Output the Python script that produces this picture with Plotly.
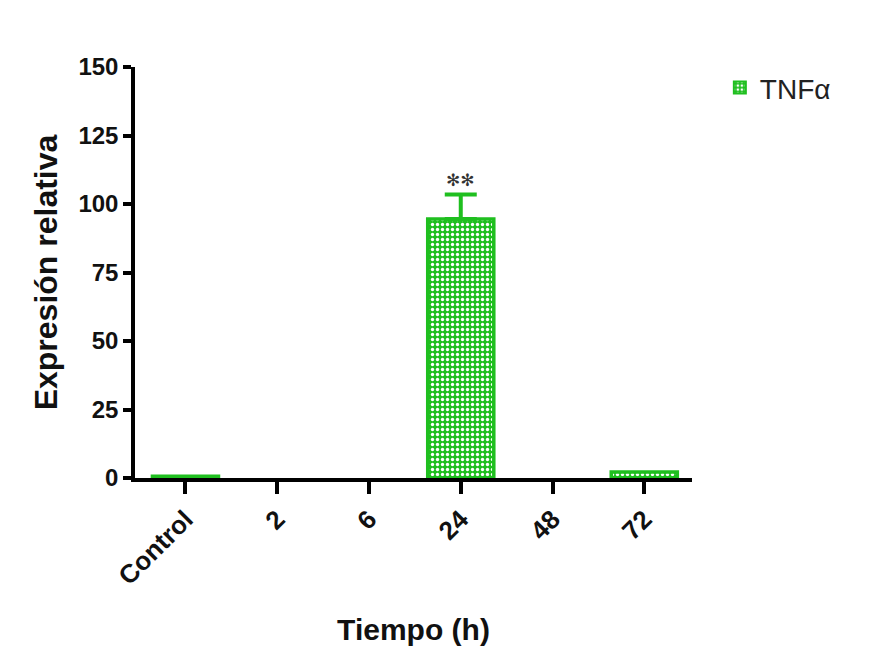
import plotly.graph_objects as go

categories = ["Control", "2", "6", "24", "48", "72"]
values = [0.6, 0, 0, 94.5, 0, 2.2]
errors_up = [None, None, None, 9.0, None, None]
significance = ["", "", "", "**", "", ""]
series_name = "TNFα"
y_ticks = [0, 25, 50, 75, 100, 125, 150]

GREEN = "#1fbf1f"
FONT = "Liberation Sans, Arial, sans-serif"

line_widths = [3.5 if v > 0 else 0 for v in values]
opacities = [1 if v > 0 else 0 for v in values]

fig = go.Figure()
fig.add_trace(go.Bar(
    x=categories, y=values, name=series_name,
    width=0.72,
    marker=dict(
        color=GREEN, opacity=opacities,
        line=dict(color=GREEN, width=line_widths),
        pattern=dict(shape=".", fgcolor="white", bgcolor=GREEN, size=5, solidity=0.35, fillmode="replace"),
    ),
))

# error bars only where an error exists
err_idx = [i for i, e in enumerate(errors_up) if e is not None]
fig.add_trace(go.Scatter(
    x=[categories[i] for i in err_idx], y=[values[i] for i in err_idx],
    mode="markers", marker=dict(size=1, color="rgba(0,0,0,0)"),
    showlegend=False, hoverinfo="skip",
    error_y=dict(type="data", symmetric=False, array=[errors_up[i] for i in err_idx],
                 arrayminus=[0 for _ in err_idx], color=GREEN, thickness=4, width=16),
))

for i, (v, e, s) in enumerate(zip(values, errors_up, significance)):
    if s:
        fig.add_annotation(x=i, y=v + (e or 0), xref="x", yref="y", text=s.replace("*", "✻"),
                           showarrow=False, yshift=2, yanchor="bottom",
                           font=dict(family="DejaVu Sans", size=17, color="#333"))

fig.update_layout(
    width=877, height=665,
    margin=dict(l=135, r=185, t=67, b=187),
    paper_bgcolor="white", plot_bgcolor="white",
    showlegend=True,
    legend=dict(x=1.05, y=1.01, xanchor="left", yanchor="top",
                font=dict(family=FONT, size=28, color="#222"),
                itemsizing="constant", bgcolor="rgba(0,0,0,0)"),
    font=dict(family=FONT, color="#111"),
)
fig.update_xaxes(
    type="category", categoryorder="array", categoryarray=categories,
    range=[-0.55, 5.52], showline=True, linecolor="black", linewidth=3.5,
    ticks="outside", ticklen=12, tickwidth=3.5, tickcolor="black",
    tickangle=-45, tickfont=dict(family=FONT, size=26, color="#111", weight="bold"),
    showgrid=False, zeroline=False,
    title=dict(text="<b>Tiempo (h)</b>", font=dict(family=FONT, size=30, color="#111"), standoff=30),
)
fig.update_yaxes(
    range=[0, 150], tickvals=y_ticks, showline=True, linecolor="black", linewidth=3.5,
    ticks="outside", ticklen=8, tickwidth=3.5, tickcolor="black",
    tickfont=dict(family=FONT, size=24, color="#111", weight="bold"),
    showgrid=False, zeroline=False,
    title=dict(text="<b>Expresión relativa</b>", font=dict(family=FONT, size=32, color="#111"), standoff=12),
)

fig.write_html("out.html")
